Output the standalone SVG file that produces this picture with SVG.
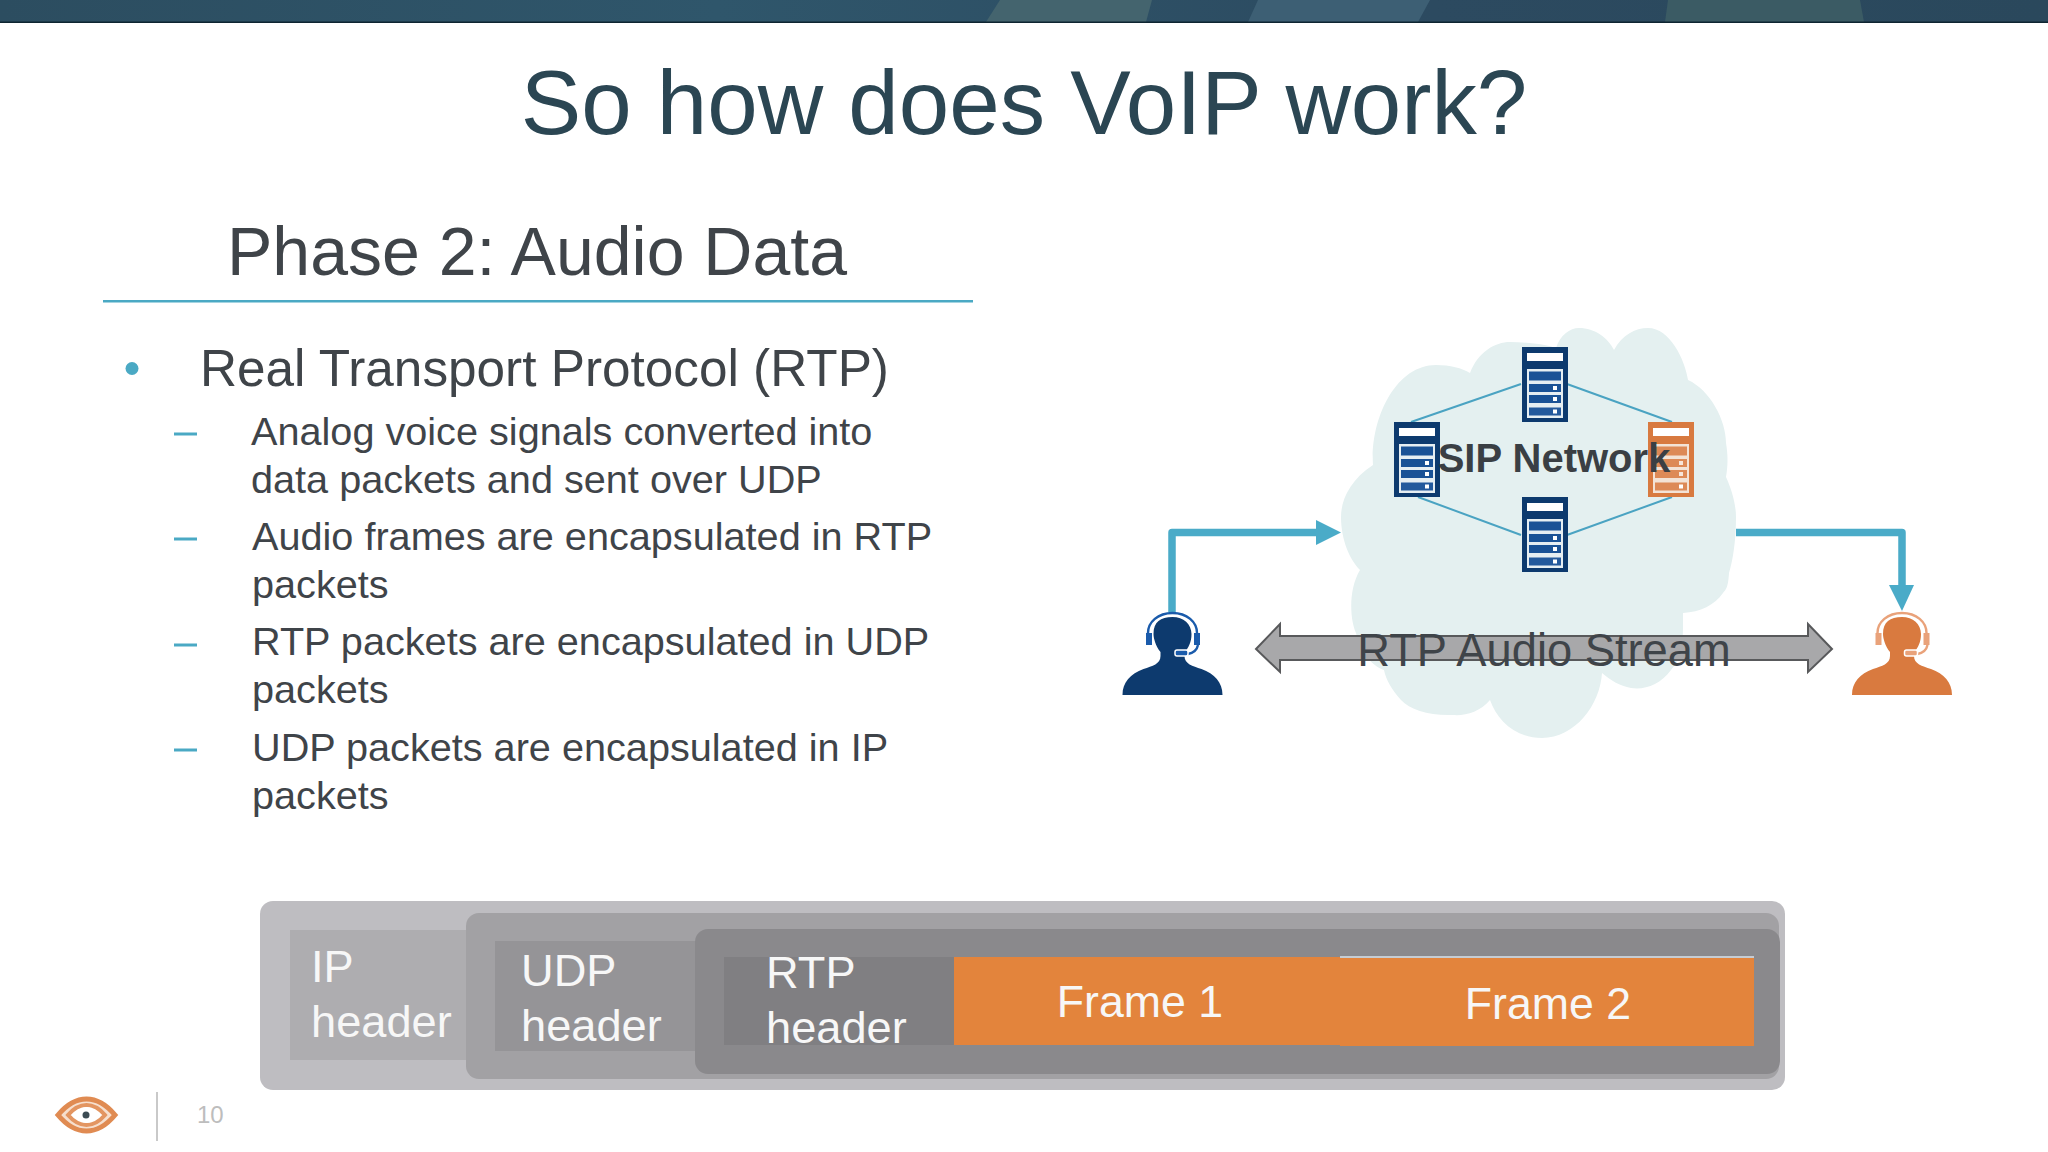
<svg xmlns="http://www.w3.org/2000/svg" width="2048" height="1152" viewBox="0 0 2048 1152">
<defs>
<linearGradient id="band" x1="0" x2="1" y1="0" y2="0"><stop offset="0" stop-color="#2c4d60"/><stop offset="0.35" stop-color="#2f566b"/><stop offset="0.7" stop-color="#2c4a60"/><stop offset="1" stop-color="#2a485c"/></linearGradient>
<g id="srv"><rect x="0" y="0" width="46" height="75" fill="#0d3a6e"/><rect x="5" y="6" width="36" height="8" fill="#fff"/><rect x="5" y="22" width="36" height="49" fill="#e6eef2"/><rect x="7" y="24.500" width="32" height="9" fill="#1a5296"/><rect x="7" y="37" width="32" height="8" fill="#1a5296"/><rect x="7" y="48" width="32" height="8" fill="#1a5296"/><rect x="7" y="60.500" width="32" height="8" fill="#23599c"/><rect x="31" y="39" width="4" height="4" fill="#fff"/><rect x="31" y="50" width="4" height="4" fill="#fff"/><rect x="31" y="62.500" width="4" height="4" fill="#fff"/></g>
<g id="srvo"><rect x="0" y="0" width="46" height="75" fill="#d87a40"/><rect x="5" y="6" width="36" height="8" fill="#fff"/><rect x="5" y="22" width="36" height="49" fill="#f3e3d6"/><rect x="7" y="24.500" width="32" height="9" fill="#dd8a57"/><rect x="7" y="37" width="32" height="8" fill="#dd8a57"/><rect x="7" y="48" width="32" height="8" fill="#dd8a57"/><rect x="7" y="60.500" width="32" height="8" fill="#dd8a57"/><rect x="31" y="39" width="4" height="4" fill="#f7e6da"/><rect x="31" y="50" width="4" height="4" fill="#f7e6da"/><rect x="31" y="62.500" width="4" height="4" fill="#fff"/></g>
<path id="body" d="M-50 83C-50 70 -42 62 -29 57C-20 54 -12 52 -12 44L-12 40C-17 34 -19 26 -19 22C-19 10 -12 5 0 5C11 5 19 12 19 22C19 30 16 36 12 40L12 44C12 52 20 54 29 57C42 62 50 70 50 83Z"/>
</defs>
<style>
text{font-family:"Liberation Sans",Arial,sans-serif}
.sub{font-size:39.65px;fill:#3f4449}
.wh{font-size:45.2px;fill:#f7f7f7}
.fr{font-size:44.7px;fill:#f7f7f7}
.dash{stroke:#4aa9c4;stroke-width:3;fill:none}
.link{stroke:#4aa3c2;stroke-width:2;fill:none}
.flow{stroke:#4aabc8;stroke-width:7.500;fill:none;stroke-linejoin:round}
</style>
<rect width="2048" height="1152" fill="#fff"/>
<rect id="band-top" width="2048" height="22" fill="url(#band)"/>
<g><polygon points="1000,0 1152,0 1146,22 986,22" fill="#44646e"/><polygon points="1258,0 1430,0 1418,22 1248,22" fill="#3d5f74"/><polygon points="1668,0 1860,0 1864,22 1665,22" fill="#3b5b64"/></g>
<rect x="0" y="21.500" width="2048" height="1.500" fill="#0e2531"/>
<text x="1024" y="134" font-size="90.700" fill="#2b4653" text-anchor="middle">So how does VoIP work?</text>
<text x="537" y="275" font-size="68" fill="#3f4449" text-anchor="middle">Phase 2: Audio Data</text>
<rect x="103" y="300" width="870" height="2.500" fill="#4aa9c4"/>
<circle cx="132" cy="368.500" r="6.500" fill="#4aa9c4"/>
<text x="200" y="385.500" font-size="51.300" fill="#3f4449">Real Transport Protocol (RTP)</text>
<line class="dash" x1="174" x2="197" y1="434" y2="434"/>
<text class="sub" x="251" y="445">Analog voice signals converted into</text>
<text class="sub" x="251" y="493">data packets and sent over UDP</text>
<line class="dash" x1="174" x2="197" y1="539" y2="539"/>
<text class="sub" x="252" y="550">Audio frames are encapsulated in RTP</text>
<text class="sub" x="252" y="598">packets</text>
<line class="dash" x1="174" x2="197" y1="645" y2="645"/>
<text class="sub" x="252" y="655">RTP packets are encapsulated in UDP</text>
<text class="sub" x="252" y="703">packets</text>
<line class="dash" x1="174" x2="197" y1="750" y2="750"/>
<text class="sub" x="252" y="760.500">UDP packets are encapsulated in IP</text>
<text class="sub" x="252" y="808.500">packets</text>

<path id="cloud" fill="#e4f0f0" d="M1373 465C1370 420 1395 365 1436 365C1450 365 1462 368 1470 373C1478 352 1495 342 1510 342C1530 342 1548 345 1556 348C1560 335 1570 328 1579 328C1595 328 1608 338 1614 350C1622 335 1635 328 1648 328C1670 328 1685 360 1688 380C1710 390 1726 420 1726 443C1728 455 1728 465 1726 477C1732 490 1736 505 1736 517C1736 540 1733 560 1729 573C1728 590 1725 590 1723 593C1715 605 1700 612 1683 613L1683 627C1683 645 1680 660 1671 670C1660 685 1645 690 1631 688C1620 686 1610 680 1602 673C1600 705 1575 738 1542 738C1515 738 1497 720 1490 700C1480 712 1465 716 1453 715C1430 716 1410 710 1401 700C1392 690 1386 680 1384 670C1370 665 1360 650 1356 633C1350 620 1348 590 1360 570C1350 560 1341 540 1341 517C1341 500 1350 480 1373 465Z"/>

<g id="connectors">
<path class="link" d="M1411 422L1521 384M1567 384L1672 422M1418 497L1521 535M1567 535L1672 497"/>
<path class="flow" d="M1172 612V532.500H1318"/>
<polygon points="1316,520 1341,532.500 1316,545" fill="#4aabc8"/>
<path class="flow" d="M1736 532.500H1902V590"/>
<polygon points="1889,585 1914,585 1902,611" fill="#4aabc8"/>
</g>

<g id="server-top"><use href="#srv" x="1522" y="347"/></g>
<g id="server-left"><use href="#srv" x="1394" y="422"/></g>
<g id="server-right"><use href="#srvo" x="1648" y="422"/></g>
<g id="server-bottom"><use href="#srv" x="1522" y="497"/></g>
<g id="sip-label"><text x="1554" y="472" font-size="40" font-weight="700" fill="#3a3f44" text-anchor="middle">SIP Network</text></g>

<g id="user-left" fill="#0d3a6e">
<use href="#body" transform="translate(1172.500,612)"/>
<path d="M1148 633C1148 622 1158 613 1172.500 613C1187 613 1197 622 1197 633M1198 645C1197 650 1193 653 1188 654" fill="none" stroke="#1a5bab" stroke-width="2.400"/>
<rect x="1146" y="633" width="6" height="12" fill="#1a5bab"/><rect x="1194" y="633" width="6" height="12" fill="#1a5bab"/>
<rect x="1175" y="650" width="13" height="6" rx="2" fill="#1a5bab" stroke="#fff" stroke-width="1.500"/>
</g>
<g id="user-right" fill="#d97a3f">
<use href="#body" transform="translate(1902,612)"/>
<path d="M1877.500 633C1877.500 622 1887.500 613 1902 613C1916.500 613 1926.500 622 1926.500 633M1927.500 645C1926.500 650 1922.500 653 1917.500 654" fill="none" stroke="#e9a27a" stroke-width="2.400"/>
<rect x="1875.500" y="633" width="6" height="12" fill="#e9a27a"/><rect x="1923.500" y="633" width="6" height="12" fill="#e9a27a"/>
<rect x="1904.500" y="650" width="13" height="6" rx="2" fill="#e9a27a" stroke="#fff" stroke-width="1.500"/>
</g>

<g id="stream">
<polygon points="1256,649 1280,624 1280,636 1808,636 1808,624 1832,649 1808,672 1808,660 1280,660 1280,672" fill="#a8a8aa" stroke="#58595b" stroke-width="2"/>
<text x="1544" y="666" font-size="45.300" fill="#3f4449" text-anchor="middle">RTP Audio Stream</text>
</g>

<g id="packet-ip"><rect x="260" y="901" width="1525" height="189" rx="13" fill="#bebdc1"/><rect x="290" y="930" width="180" height="130" fill="#aeadb0"/>
<text class="wh" x="311" y="982">IP</text><text class="wh" x="311" y="1037">header</text></g>
<g id="packet-udp"><rect x="466" y="913" width="1313" height="166" rx="13" fill="#a2a1a4"/><rect x="495" y="941" width="225" height="110" fill="#959497"/>
<text class="wh" x="521" y="986">UDP</text><text class="wh" x="521" y="1041">header</text></g>
<g id="packet-rtp"><rect x="695" y="929" width="1085" height="145" rx="13" fill="#8a898c"/><rect x="724" y="957" width="250" height="88" fill="#807f82"/>
<text class="wh" x="766" y="988">RTP</text><text class="wh" x="766" y="1043">header</text></g>
<g id="frame-1"><rect x="954" y="957" width="390" height="88" fill="#e3843c"/><text class="fr" x="1140" y="1017" text-anchor="middle">Frame 1</text></g>
<g id="frame-2"><rect x="1340" y="956" width="414" height="2" fill="#c5ccd3"/><rect x="1340" y="958" width="414" height="88" fill="#e3843c"/><text class="fr" x="1548" y="1019" text-anchor="middle">Frame 2</text></g>

<g id="footer">
<path d="M58 1115C68 1103 78 1099 86.500 1099C95 1099 105 1103 115 1115C105 1127 95 1131 86.500 1131C78 1131 68 1127 58 1115Z" fill="#f6dfce" stroke="#e08b52" stroke-width="5"/>
<path d="M68 1115C74 1108 80 1105 86.500 1105C93 1105 99 1108 105 1115C99 1122 93 1125 86.500 1125C80 1125 74 1122 68 1115Z" fill="#fff" stroke="#e39561" stroke-width="4"/>
<circle cx="86.500" cy="1115" r="8" fill="#fff"/>
<circle cx="86" cy="1115" r="3.500" fill="#3c4c54"/>
<rect x="156" y="1092" width="2" height="49" fill="#c9c9c9"/>
<text x="197" y="1123" font-size="24" fill="#bdbdbd">10</text>
</g>
</svg>
